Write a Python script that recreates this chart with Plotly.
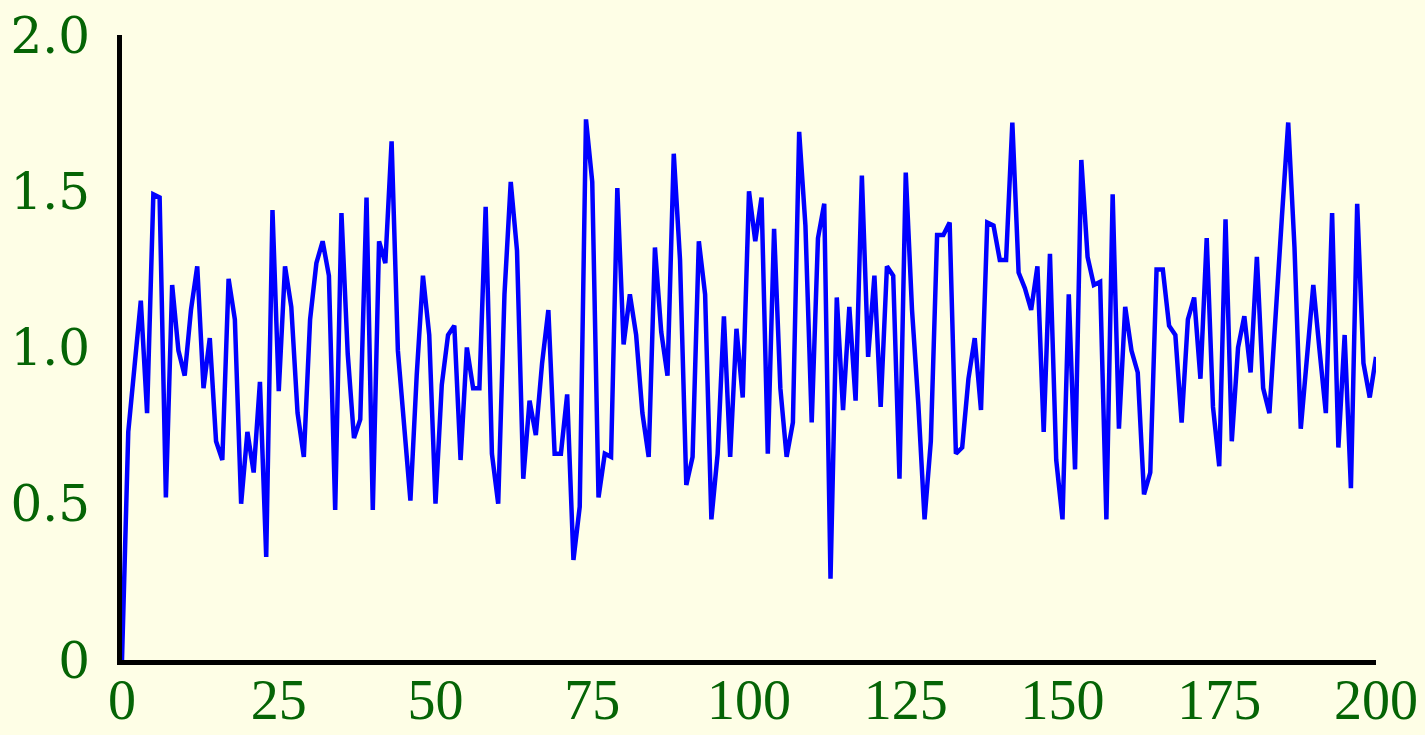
import plotly.graph_objects as go

x_values = list(range(201))
y_values = [
    0.00, 0.73, 0.94, 1.15, 0.79, 1.49, 1.48, 0.52, 1.20, 0.99,
    0.91, 1.12, 1.26, 0.87, 1.03, 0.70, 0.64, 1.22, 1.09, 0.50,
    0.73, 0.60, 0.89, 0.33, 1.44, 0.86, 1.26, 1.13, 0.79, 0.65,
    1.09, 1.27, 1.34, 1.23, 0.48, 1.43, 0.98, 0.71, 0.77, 1.48,
    0.48, 1.34, 1.27, 1.66, 0.99, 0.76, 0.51, 0.91, 1.23, 1.04,
    0.50, 0.88, 1.04, 1.07, 0.64, 1.00, 0.87, 0.87, 1.45, 0.66,
    0.50, 1.17, 1.53, 1.31, 0.58, 0.83, 0.72, 0.95, 1.12, 0.66,
    0.66, 0.85, 0.32, 0.49, 1.73, 1.53, 0.52, 0.66, 0.65, 1.51,
    1.01, 1.17, 1.04, 0.79, 0.65, 1.32, 1.05, 0.91, 1.62, 1.28,
    0.56, 0.65, 1.34, 1.17, 0.45, 0.66, 1.10, 0.65, 1.06, 0.84,
    1.50, 1.34, 1.48, 0.66, 1.38, 0.87, 0.65, 0.76, 1.69, 1.39,
    0.76, 1.35, 1.46, 0.26, 1.16, 0.80, 1.13, 0.83, 1.55, 0.97,
    1.23, 0.81, 1.26, 1.23, 0.58, 1.56, 1.12, 0.82, 0.45, 0.70,
    1.36, 1.36, 1.40, 0.66, 0.68, 0.90, 1.03, 0.80, 1.40, 1.39,
    1.28, 1.28, 1.72, 1.24, 1.19, 1.12, 1.26, 0.73, 1.30, 0.64,
    0.45, 1.17, 0.61, 1.60, 1.29, 1.20, 1.21, 0.45, 1.49, 0.74,
    1.13, 0.99, 0.92, 0.53, 0.60, 1.25, 1.25, 1.07, 1.04, 0.76,
    1.09, 1.16, 0.90, 1.35, 0.81, 0.62, 1.41, 0.70, 1.00, 1.10,
    0.92, 1.29, 0.87, 0.79, 1.12, 1.42, 1.72, 1.32, 0.74, 0.97,
    1.20, 0.99, 0.79, 1.43, 0.68, 1.04, 0.55, 1.46, 0.95, 0.84,
    0.97,
]

x_tick_vals = [0, 25, 50, 75, 100, 125, 150, 175, 200]
x_tick_text = ["0", "25", "50", "75", "100", "125", "150", "175", "200"]
y_tick_vals = [0, 0.5, 1.0, 1.5, 2.0]
y_tick_text = ["0", "0.5", "1.0", "1.5", "2.0"]

bg = "#FEFEE6"
label_color = "#056405"

fig = go.Figure()
fig.add_trace(go.Scatter(
    x=x_values, y=y_values, mode="lines",
    line=dict(color="#0000FF", width=4.5),
    showlegend=False, hoverinfo="skip",
))

fig.update_layout(
    width=1425, height=735,
    paper_bgcolor=bg, plot_bgcolor=bg,
    margin=dict(l=122, r=49, t=35, b=75),
    font=dict(family="DejaVu Serif", color=label_color),
)
fig.update_xaxes(
    range=[0, 200], tickvals=x_tick_vals, ticktext=x_tick_text,
    showgrid=False, zeroline=False, automargin=False,
    showline=True, linecolor="black", linewidth=5,
    ticks="", ticklabelstandoff=-13,
    tickfont=dict(family="Liberation Serif", size=56, color=label_color),
)
fig.update_yaxes(
    range=[0, 2], tickvals=y_tick_vals, ticktext=y_tick_text,
    showgrid=False, zeroline=False, automargin=False,
    showline=True, linecolor="black", linewidth=5,
    ticks="", ticklabelstandoff=17,
    tickfont=dict(family="DejaVu Serif", size=50, color=label_color),
)

fig.write_html(
    "out.html",
    config={"displayModeBar": False},
    post_script=(
        "document.body.style.margin='0';"
        "document.body.style.background='" + bg + "';"
        "document.body.style.overflow='hidden';"
    ),
)
